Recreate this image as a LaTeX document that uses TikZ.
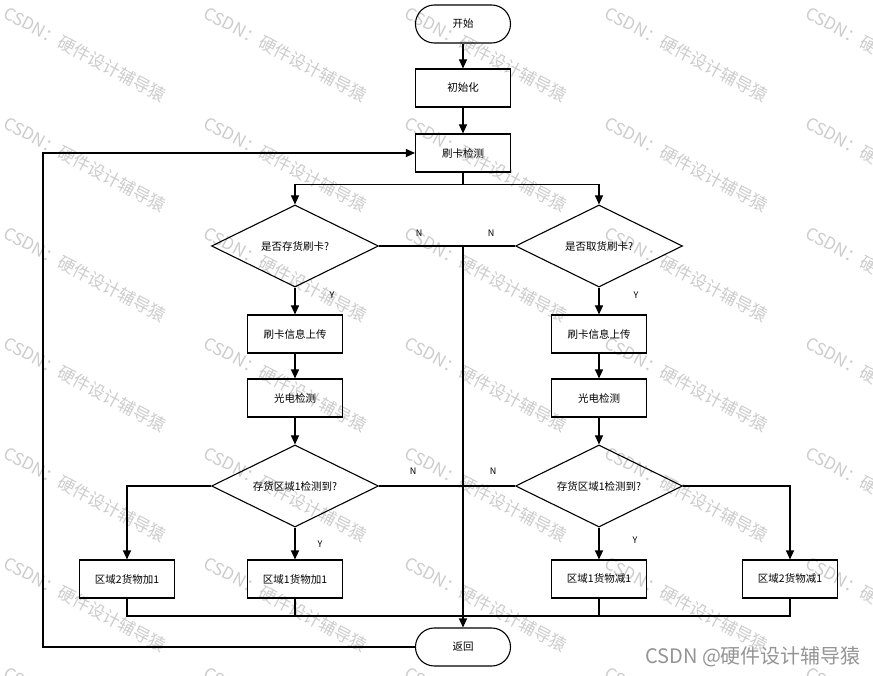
\documentclass[tikz,border=0pt]{standalone}
\usepackage{fontspec}
\setmainfont{Noto Sans CJK SC}
\usetikzlibrary{shapes.geometric,arrows.meta}
\begin{document}
\begin{tikzpicture}[x=1pt,y=-1pt,
  box/.style={draw,line width=1.1pt,minimum width=95pt,minimum height=38pt,inner sep=0pt,font=\fontsize{10.5}{12}\selectfont},
  term/.style={box,rounded corners=18.9pt},
  dec/.style={draw,diamond,line width=1.1pt,minimum width=167pt,minimum height=82pt,inner sep=0pt,shape aspect=2,font=\fontsize{10.5}{12}\selectfont},
  arr/.style={line width=1.1pt,-{Triangle[width=8pt,length=9pt]}},
  ln/.style={line width=1.1pt},
  lab/.style={font=\fontsize{9}{10}\selectfont,inner sep=0pt},
  wm/.style={text=black!20,font=\fontsize{17}{20}\selectfont,rotate=-28,inner sep=0pt}]
\useasboundingbox (0,0) rectangle (873,676);
\begin{scope}
\clip (0,0) rectangle (873,676);
\foreach \i in {0,...,4}{
  \foreach \j in {0,...,6}{
    \node[wm] (wm-\i-\j) at ({85+200.5*\i},{54+110*\j}) {CSDN：硬件设计辅导猿};
  }
}
\end{scope}
% nodes
\node[term] (start) at (463,24) {开始};
\node[box] (init) at (463,88) {初始化};
\node[box] (detect) at (463,153) {刷卡检测};
\node[dec] (d1) at (295,246) {是否存货刷卡?};
\node[dec] (d2) at (599,246) {是否取货刷卡?};
\node[box] (up1) at (295,334) {刷卡信息上传};
\node[box] (up2) at (599,334) {刷卡信息上传};
\node[box] (pe1) at (295,398) {光电检测};
\node[box] (pe2) at (599,398) {光电检测};
\node[dec] (d3) at (295,486) {存货区域1检测到?};
\node[dec] (d4) at (599,486) {存货区域1检测到?};
\node[box] (a2) at (127,579) {区域2货物加1};
\node[box] (a1) at (295,579) {区域1货物加1};
\node[box] (s1) at (599,579) {区域1货物减1};
\node[box] (s2) at (790,579) {区域2货物减1};
\node[term] (ret) at (463,647) {返回};
\coordinate (bus) at (127,616);
\coordinate (loopx) at (43,647);
% connectors
\draw[arr] (start) -- (init);
\draw[arr] (init) -- (detect);
\draw[arr] (detect.south) -- ++(0,12) -| (d1.north);
\draw[arr] (detect.south) -- ++(0,12) -| (d2.north);
\draw[ln] (d1.east) -- (d1.east -| ret.north);
\draw[ln] (d2.west) -- (d2.west -| ret.north);
\draw[arr] (d1.east -| ret.north) -- (ret.north);
\draw[arr] (d1.south) -- (up1);
\draw[arr] (d2.south) -- (up2);
\draw[arr] (up1) -- (pe1);
\draw[arr] (up2) -- (pe2);
\draw[arr] (pe1) -- (d3);
\draw[arr] (pe2) -- (d4);
\draw[arr] (d3.west) -| (a2.north);
\draw[arr] (d3.south) -- (a1.north);
\draw[ln] (d3.east) -- (d3.east -| ret.north);
\draw[arr] (d4.east) -| (s2.north);
\draw[arr] (d4.south) -- (s1.north);
\draw[ln] (d4.west) -- (d4.west -| ret.north);
\draw[ln] (a2.south) -- (bus) -| (s2.south);
\draw[ln] (a1.south) -- (a1.south |- bus);
\draw[ln] (s1.south) -- (s1.south |- bus);
\draw[arr] (ret.west) -- (loopx) |- (detect.west);
% labels
\node[lab] (n1) at (419,233) {N};
\node[lab] (n2) at (491,233) {N};
\node[lab] (y1) at (332,295) {Y};
\node[lab] (y2) at (636,295) {Y};
\node[lab] (n3) at (413,471) {N};
\node[lab] (n4) at (493,471) {N};
\node[lab] (y3) at (320,544) {Y};
\node[lab] (y4) at (635,540) {Y};
\node[text=black!42,font=\fontsize{20}{24}\selectfont,anchor=west,inner sep=0pt] (credit) at (645,657) {CSDN @硬件设计辅导猿};
\end{tikzpicture}
\end{document}
